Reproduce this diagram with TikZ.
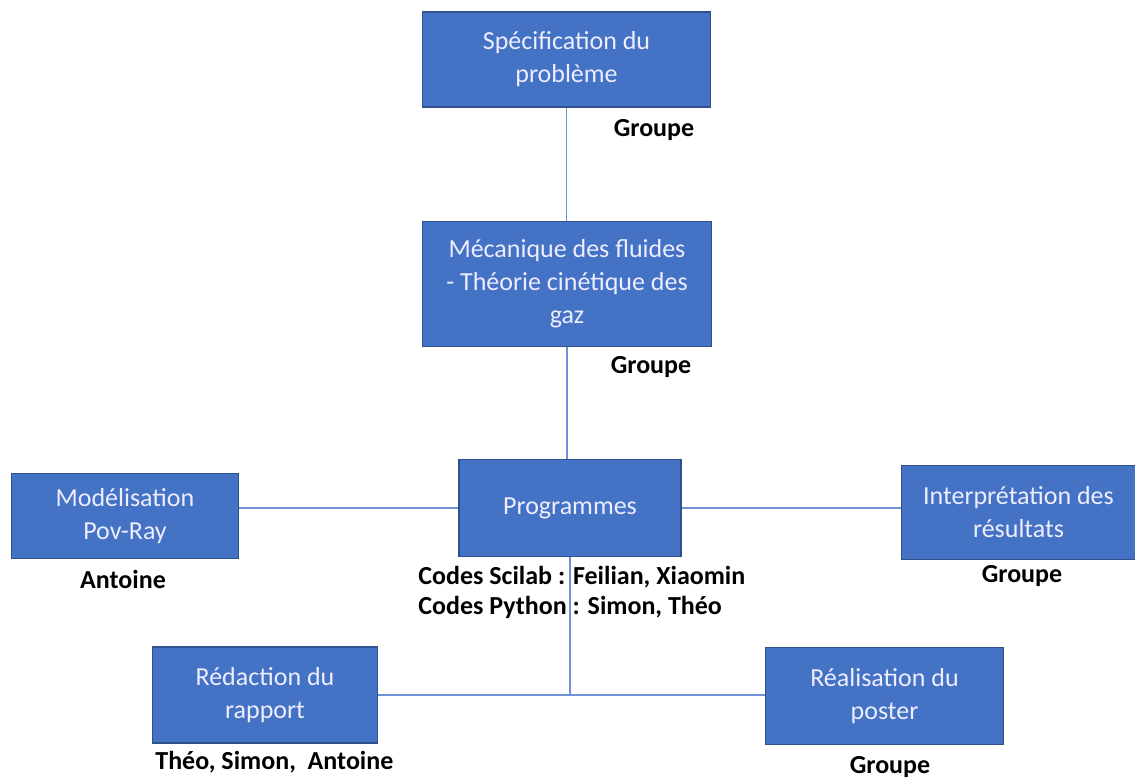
\documentclass[tikz,border=0pt]{standalone}
\usepackage{fontspec}
\setmainfont{Carlito}
\usetikzlibrary{positioning}

\definecolor{boxblue}{HTML}{4472C4}
\definecolor{boxedge}{HTML}{2F528F}
\definecolor{linkblue}{HTML}{6F93D6}

\tikzset{
  tache/.style={draw=boxedge, line width=0.8pt, fill=boxblue, text=white!93!blue,
    align=center, font=\fontsize{13}{16.5}\selectfont, inner sep=2pt},
  qui/.style={font=\fontsize{13}{15}\selectfont\bfseries, inner sep=0pt},
  lien/.style={draw=linkblue, line width=0.6pt}
}

\begin{document}
\begin{tikzpicture}[x=0.5pt, y=-0.5pt]
\useasboundingbox (0,0) rectangle (1135,780);

% les taches
\node[tache, minimum width=144pt, minimum height=47.5pt] (spec) at (566.5,59.5) {Spécification du\\problème};
\node[tache, minimum width=144.5pt, minimum height=62.5pt] (meca) at (567,284) {Mécanique des fluides\\- Théorie cinétique des\\gaz};
\node[tache, minimum width=111pt, minimum height=48.5pt] (prog) at (570,508) {Programmes};
\node[tache, minimum width=113.5pt, minimum height=42.5pt] (model) at (125,516) {Modélisation\\Pov-Ray};
\node[tache, minimum width=117pt, minimum height=47pt] (interp) at (1018.5,512.5) {Interprétation des\\résultats};
\node[tache, minimum width=112.5pt, minimum height=48pt] (redac) at (265,695) {Rédaction du\\rapport};
\node[tache, minimum width=119pt, minimum height=48.5pt] (real) at (884.5,696) {Réalisation du\\poster};

% qui fait quoi
\node[qui] (g1) at (654,130) {Groupe};
\node[qui] (g2) at (651,367) {Groupe};
\node[qui] (ant) at (123,579) {Antoine};
\node[qui, anchor=west, align=left] (codes) at (418,592) {Codes Scilab\ : Feilian, Xiaomin\\Codes Python : Simon, Théo};
\node[qui] (g3) at (1022,576) {Groupe};
\node[qui, anchor=west] (rap) at (155,762) {Théo, Simon,\ \ Antoine};
\node[qui] (g4) at (890,767) {Groupe};

% liens
\begin{scope}[on background layer/.try]
\draw[lien] (spec.south) -- (spec.south |- meca.north);
\draw[lien] (meca.south) -- (meca.south |- prog.north);
\draw[lien] (prog.west) -- (prog.west -| model.east);
\draw[lien] (prog.east) -- (prog.east -| interp.west);
\draw[lien] (redac.east) -- (redac.east -| real.west);
\draw[lien] (prog.south) -- (prog.south |- redac.east);
\end{scope}
\end{tikzpicture}
\end{document}
